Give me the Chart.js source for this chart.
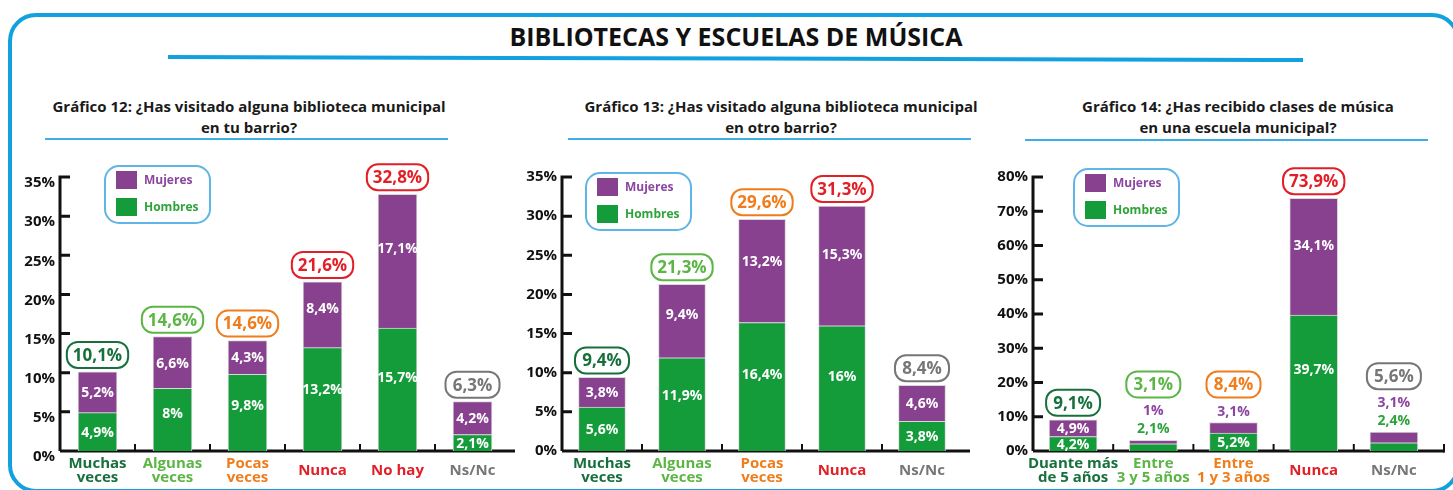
<!DOCTYPE html>
<html lang="es">
<head>
<meta charset="utf-8">
<title>Bibliotecas y escuelas de música</title>
<script src="https://cdn.jsdelivr.net/npm/chart.js@4.4.1/dist/chart.umd.min.js"></script>
<style>
  body { margin: 0; background: #fff; font-family: 'Open Sans', sans-serif; }
  #hoja { position: relative; width: 1453px; height: 490px; overflow: hidden; background: #fff; }
  .marco { position: absolute; left: 8px; top: 13px; width: 1452px; height: 480px; box-sizing: border-box;
           border: 4px solid #12a1de; border-radius: 28px; }
  .titulo { position: absolute; left: 0; top: 24px; width: 1472px; text-align: center; font-size: 25px;
            line-height: 1; font-weight: 700; color: #111; }
  .linea-titulo { position: absolute; left: 168px; top: 55px; width: 1135px; height: 4px; background: #12a1de;
                  transform: rotate(0.15deg); transform-origin: left center; }
  .subtitulo { position: absolute; top: 96px; width: 520px; margin-left: -260px; text-align: center;
               font-size: 15px; line-height: 21px; font-weight: 700; color: #1a1a1a; }
  .linea-sub { position: absolute; height: 2px; background: #3cb0e6; }
  canvas { position: absolute; top: 150px; }
</style>
</head>
<body>
<div id="hoja">
  <div class="marco"></div>
  <div class="titulo">BIBLIOTECAS Y ESCUELAS DE MÚSICA</div>
  <div class="linea-titulo"></div>

  <div class="subtitulo" style="left:249px">Gráfico 12: ¿Has visitado alguna biblioteca municipal<br>en tu barrio?</div>
  <div class="linea-sub" style="left:45px; top:138px; width:403px"></div>
  <div class="subtitulo" style="left:781px">Gráfico 13: ¿Has visitado alguna biblioteca municipal<br>en otro barrio?</div>
  <div class="linea-sub" style="left:568px; top:138px; width:403px"></div>
  <div class="subtitulo" style="left:1238px">Gráfico 14: ¿Has recibido clases de música<br>en una escuela municipal?</div>
  <div class="linea-sub" style="left:1025px; top:139px; width:403px"></div>

  <canvas id="grafico12" width="515" height="340" style="left:0px"></canvas>
  <canvas id="grafico13" width="470" height="340" style="left:500px"></canvas>
  <canvas id="grafico14" width="473" height="340" style="left:980px"></canvas>
</div>

<script>
// Datos gráfico 12: biblioteca en tu barrio
const categorias12 = [['Muchas', 'veces'], ['Algunas', 'veces'], ['Pocas', 'veces'], ['Nunca'], ['No hay'], ['Ns/Nc']];
const hombres12 = [4.9, 8, 9.8, 13.2, 15.7, 2.1];
const mujeres12 = [5.2, 6.6, 4.3, 8.4, 17.1, 4.2];
const totales12 = [10.1, 14.6, 14.6, 21.6, 32.8, 6.3];

// Datos gráfico 13: biblioteca en otro barrio
const categorias13 = [['Muchas', 'veces'], ['Algunas', 'veces'], ['Pocas', 'veces'], ['Nunca'], ['Ns/Nc']];
const hombres13 = [5.6, 11.9, 16.4, 16, 3.8];
const mujeres13 = [3.8, 9.4, 13.2, 15.3, 4.6];
const totales13 = [9.4, 21.3, 29.6, 31.3, 8.4];

// Datos gráfico 14: escuela de música
const categorias14 = [['Duante más', 'de 5 años'], ['Entre', '3 y 5 años'], ['Entre', '1 y 3 años'], ['Nunca'], ['Ns/Nc']];
const hombres14 = [4.2, 2.1, 5.2, 39.7, 2.4];
const mujeres14 = [4.9, 1, 3.1, 34.1, 3.1];
const totales14 = [9.1, 3.1, 8.4, 73.9, 5.6];

// Ejes (máximo y paso de las marcas)
const ejeBibliotecas = { max: 35, paso: 5 };
const ejeMusica = { max: 80, paso: 10 };

// Colores de cada respuesta
const VERDE_OSCURO = '#17703c', VERDE_CLARO = '#5cb646', NARANJA = '#f07d1c', ROJO = '#e21f26', GRIS = '#767676';
const colores12 = [VERDE_OSCURO, VERDE_CLARO, NARANJA, ROJO, ROJO, GRIS];
const colores13 = [VERDE_OSCURO, VERDE_CLARO, NARANJA, ROJO, GRIS];
const colores14 = [VERDE_OSCURO, VERDE_CLARO, NARANJA, ROJO, GRIS];

Chart.defaults.font.family = "'Open Sans', sans-serif";

const formato = v => String(v).replace('.', ',') + '%';
const FUENTE = '"Open Sans", sans-serif';

function cajaRedonda(ctx, x, y, w, h, r) {
  ctx.beginPath();
  ctx.roundRect(x, y, w, h, r);
}

// Plugin: ejes, etiquetas de segmentos, totales en caja, categorías y leyenda
function crearDecoracion(totales, colores, leyenda) {
  return {
    id: 'decoracion',
    beforeDatasetsDraw(chart) {
      const { ctx, chartArea: a, scales: { x, y } } = chart;
      ctx.save();
      ctx.strokeStyle = '#111';
      ctx.lineWidth = 3;
      ctx.beginPath();
      ctx.moveTo(a.left, a.top - 1.5);
      ctx.lineTo(a.left, a.bottom);
      y.ticks.forEach(t => {
        if (t.value === 0) return;
        const py = y.getPixelForValue(t.value);
        ctx.moveTo(a.left, py);
        ctx.lineTo(a.left + 10, py);
      });
      const fin = a.right + 10;
      ctx.moveTo(a.left, a.bottom);
      ctx.lineTo(fin, a.bottom);
      ctx.stroke();
      ctx.lineWidth = 2;
      ctx.beginPath();
      const ancho = x.getPixelForValue(1) - x.getPixelForValue(0);
      for (let i = 0; i < chart.data.labels.length - 1; i++) {
        const px = x.getPixelForValue(i) + ancho / 2;
        ctx.moveTo(px, a.bottom);
        ctx.lineTo(px, a.bottom - 7);
      }
      ctx.moveTo(fin, a.bottom + 1.5);
      ctx.lineTo(fin, a.bottom - 7);
      ctx.stroke();
      ctx.restore();
    },
    afterDatasetsDraw(chart) {
      const { ctx, chartArea: a, scales: { x } } = chart;
      const sets = chart.data.datasets;
      const metas = sets.map((d, i) => chart.getDatasetMeta(i));
      ctx.save();
      ctx.textAlign = 'center';
      ctx.textBaseline = 'middle';

      chart.data.labels.forEach((cat, i) => {
        const cx = metas[0].data[i].x;
        const fuera = [];
        metas.forEach((m, d) => {
          const bar = m.data[i];
          const alto = bar.base - bar.y;
          const texto = formato(sets[d].data[i]);
          if (alto >= 12) {
            ctx.font = '700 14px ' + FUENTE;
            ctx.fillStyle = '#fff';
            ctx.fillText(texto, cx, bar.y + alto * (alto > 60 ? 0.4 : 0.5) + 1);
          } else {
            fuera.push({ texto, color: sets[d].colorEtiqueta });
          }
        });

        // etiquetas que no caben: encima de la barra
        const cima = metas[metas.length - 1].data[i].y;
        let yTexto = cima - 11;
        ctx.font = '700 14px ' + FUENTE;
        fuera.forEach(f => {
          ctx.fillStyle = f.color;
          ctx.fillText(f.texto, cx, yTexto);
          yTexto -= 18;
        });
        const baseCaja = fuera.length ? yTexto + 18 - 14 : cima - 4;

        // total en caja redondeada
        ctx.font = '700 17px ' + FUENTE;
        const txt = formato(totales[i]);
        const w = Math.max(54, ctx.measureText(txt).width + 12);
        const h = 26;
        cajaRedonda(ctx, cx - w / 2, baseCaja - h, w, h, 11);
        ctx.fillStyle = '#fff';
        ctx.fill();
        ctx.lineWidth = 2;
        ctx.strokeStyle = colores[i];
        ctx.stroke();
        ctx.fillStyle = colores[i];
        ctx.fillText(txt, cx, baseCaja - h / 2 + 1);

        // nombre de la categoría
        ctx.font = '700 15px ' + FUENTE;
        const lineas = Array.isArray(cat) ? cat : [cat];
        const px = x.getPixelForValue(i);
        if (lineas.length === 1) {
          ctx.fillText(lineas[0], px, a.bottom + 20);
        } else {
          ctx.fillText(lineas[0], px, a.bottom + 13);
          ctx.fillText(lineas[1], px, a.bottom + 27);
        }
      });

      // leyenda
      const bx = a.left + leyenda.dx, by = a.top + leyenda.dy;
      cajaRedonda(ctx, bx, by, 105, 57, 14);
      ctx.lineWidth = 2;
      ctx.strokeStyle = '#5fb5e5';
      ctx.stroke();
      ctx.textAlign = 'left';
      ctx.font = '700 12px ' + FUENTE;
      [sets[1], sets[0]].forEach((s, k) => {
        const sy = by + 5 + k * 27;
        ctx.fillStyle = s.backgroundColor;
        ctx.fillRect(bx + 11, sy, 21, 18);
        ctx.fillStyle = s.colorEtiqueta;
        ctx.fillText(s.label, bx + 39, sy + 9.5);
      });
      ctx.restore();
    }
  };
}

function crearGrafico(id, categorias, hombres, mujeres, totales, colores, eje, ajustes) {
  return new Chart(document.getElementById(id), {
    type: 'bar',
    data: {
      labels: categorias,
      datasets: [
        { label: 'Hombres', data: hombres, backgroundColor: '#159c3a', borderColor: '#d9d9d9',
          borderWidth: 1, barThickness: ajustes.barra, colorEtiqueta: '#2ea33a' },
        { label: 'Mujeres', data: mujeres, backgroundColor: '#87418f', borderColor: '#d9d9d9',
          borderWidth: 1, barThickness: ajustes.barra, colorEtiqueta: '#8c45a0' }
      ]
    },
    options: {
      responsive: false,
      animation: false,
      events: [],
      layout: { padding: { top: 27, right: ajustes.derecha, left: 0, bottom: 0 } },
      scales: {
        x: {
          stacked: true,
          grid: { display: false, drawTicks: false },
          border: { display: false },
          ticks: { display: false },
          afterFit: s => { s.height = 39; }
        },
        y: {
          stacked: true,
          min: 0,
          max: eje.max,
          grid: { display: false, drawTicks: false },
          border: { display: false },
          ticks: {
            stepSize: eje.paso,
            padding: 5,
            labelOffset: ajustes.desfase,
            color: '#111',
            font: { size: 15, weight: '700' },
            callback: v => v + '%'
          },
          afterFit: s => { s.width = ajustes.anchoEje; }
        }
      },
      plugins: { legend: { display: false }, tooltip: { enabled: false } }
    },
    plugins: [crearDecoracion(totales, colores, ajustes.leyenda)]
  });
}

crearGrafico('grafico12', categorias12, hombres12, mujeres12, totales12, colores12, ejeBibliotecas,
  { anchoEje: 60, derecha: 5, barra: 39, desfase: 6, leyenda: { dx: 45, dy: -11 } });
crearGrafico('grafico13', categorias13, hombres13, mujeres13, totales13, colores13, ejeBibliotecas,
  { anchoEje: 62, derecha: 8, barra: 47, desfase: 0, leyenda: { dx: 24, dy: -4 } });
crearGrafico('grafico14', categorias14, hombres14, mujeres14, totales14, colores14, ejeMusica,
  { anchoEje: 53, derecha: 19, barra: 48, desfase: 0, leyenda: { dx: 41, dy: -8 } });
</script>
</body>
</html>
